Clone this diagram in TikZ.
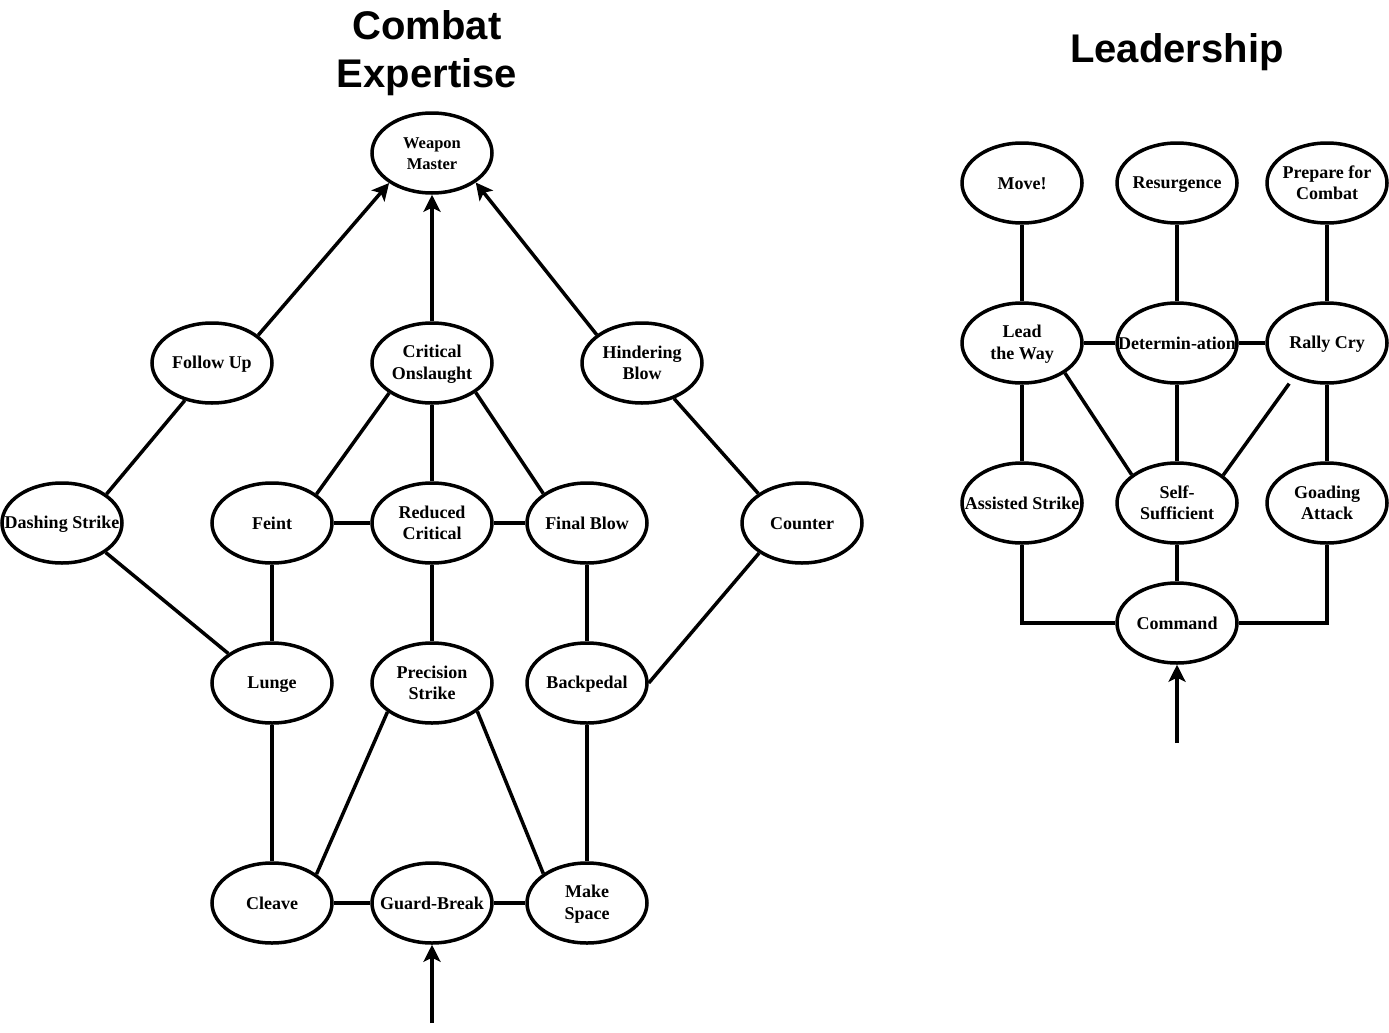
\documentclass[tikz,border=0pt]{standalone}
\usepackage{fontspec}
\setmainfont{Liberation Serif}
\newfontfamily\titlefont{Liberation Sans}
\usetikzlibrary{shapes.geometric,arrows.meta}
\newcommand\sks{\rule[-3pt]{0pt}{18pt}}
\tikzset{
  skill/.style={ellipse, draw, line width=3.5pt, minimum width=120pt, minimum height=80pt, inner sep=0pt, fill=white},
  lbl/.style={font=\bfseries\fontsize{18}{21.6}\selectfont, align=center, inner sep=0pt},
  lblsmall/.style={font=\bfseries\fontsize{16.5}{21}\selectfont, align=center, inner sep=0pt},
  link/.style={line width=3.5pt},
  arr/.style={line width=3.5pt, -{Stealth[length=17pt,width=17pt,inset=4pt]}},
  ttl/.style={font=\titlefont\bfseries\fontsize{40}{48}\selectfont, align=center, inner sep=0pt}
}
\begin{document}
\begin{tikzpicture}[x=1pt,y=-1pt]
\useasboundingbox (0,0) rectangle (1389,1033);
% titles
\node[ttl] (t1) at (427,53.5) {Combat\\Expertise};
\node[ttl] (t2) at (1177,52.5) {Leadership};
% left tree
\node[skill, label={[lblsmall]center:\sks Weapon\\\sks Master}] (wm) at (432,153) {};
\node[skill, label={[lbl]center:\sks Follow Up}] (fu) at (212,363) {};
\node[skill, label={[lbl]center:\sks Critical\\\sks Onslaught}] (co) at (432,363) {};
\node[skill, label={[lbl]center:\sks Hindering\\\sks Blow}] (hb) at (642,363) {};
\node[skill, label={[lbl]center:\sks Dashing Strike}] (ds) at (62,523) {};
\node[skill, label={[lbl]center:\sks Feint}] (fe) at (272,523) {};
\node[skill, label={[lbl]center:\sks Reduced\\\sks Critical}] (rc) at (432,523) {};
\node[skill, label={[lbl]center:\sks Final Blow}] (fb) at (587,523) {};
\node[skill, label={[lbl]center:\sks Counter}] (cu) at (802,523) {};
\node[skill, label={[lbl]center:\sks Lunge}] (lu) at (272,683) {};
\node[skill, label={[lbl]center:\sks Precision\\\sks Strike}] (ps) at (432,683) {};
\node[skill, label={[lbl]center:\sks Backpedal}] (bp) at (587,683) {};
\node[skill, label={[lbl]center:\sks Cleave}] (cl) at (272,903) {};
\node[skill, label={[lbl]center:\sks Guard-Break}] (gb) at (432,903) {};
\node[skill, label={[lbl]center:\sks Make\\\sks Space}] (ms) at (587,903) {};
\coordinate (gbin) at (432,1023);
% left connectors
\draw[arr] (fu.31) -- (wm.215);
\draw[arr] (co.north) -- (wm.south);
\draw[arr] (hb.148) -- (wm.-34);
\draw[link] (ds.33) -- (fu.-126);
\draw[link] (ds.-34) -- (lu.146);
\draw[link] (fe.33) -- (co.215);
\draw[link] (fb.146) -- (co.-34);
\draw[link] (co.south) -- (rc.north);
\draw[link] (fe.east) -- (rc.west);
\draw[link] (rc.east) -- (fb.west);
\draw[link] (cu.146) -- (hb.-48);
\draw[link] (cu.215) -- (bp.east);
\draw[link] (fe.south) -- (lu.north);
\draw[link] (rc.south) -- (ps.north);
\draw[link] (fb.south) -- (bp.north);
\draw[link] (lu.south) -- (cl.north);
\draw[link] (bp.south) -- (ms.north);
\draw[link] (cl.33) -- (ps.213);
\draw[link] (ms.146) -- (ps.-32);
\draw[link] (cl.east) -- (gb.west);
\draw[link] (gb.east) -- (ms.west);
\draw[arr] (gbin) -- (gb.south);
% right tree
\node[skill, label={[lbl]center:\sks Move!}] (mv) at (1022,183) {};
\node[skill, label={[lbl]center:\sks Resurgence}] (rs) at (1177,183) {};
\node[skill, label={[lbl]center:\sks Prepare for\\\sks Combat}] (pc) at (1327,183) {};
\node[skill, label={[lbl]center:\sks Lead\\\sks the Way}] (lw) at (1022,343) {};
\node[skill, label={[lbl]center:\sks Determin-ation}] (dt) at (1177,343) {};
\node[skill, label={[lbl]center:\sks Rally Cry}] (ry) at (1327,343) {};
\node[skill, label={[lbl]center:\sks Assisted Strike}] (as) at (1022,503) {};
\node[skill, label={[lbl]center:\sks Self-\\\sks Sufficient}] (ss) at (1177,503) {};
\node[skill, label={[lbl]center:\sks Goading\\\sks Attack}] (ga) at (1327,503) {};
\node[skill, label={[lbl]center:\sks Command}] (cm) at (1177,623) {};
\coordinate (cmin) at (1177,743);
% right connectors
\draw[link] (mv.south) -- (lw.north);
\draw[link] (rs.south) -- (dt.north);
\draw[link] (pc.south) -- (ry.north);
\draw[link] (lw.east) -- (dt.west);
\draw[link] (dt.east) -- (ry.west);
\draw[link] (lw.south) -- (as.north);
\draw[link] (dt.south) -- (ss.north);
\draw[link] (ry.south) -- (ga.north);
\draw[link] (lw.-35) -- (ss.148);
\draw[link, shorten <=7pt] (ry.226) -- (ss.31);
\draw[link] (ss.south) -- (cm.north);
\draw[link] (as.south) |- (cm.west);
\draw[link] (ga.south) |- (cm.east);
\draw[arr] (cmin) -- (cm.south);
\end{tikzpicture}
\end{document}
